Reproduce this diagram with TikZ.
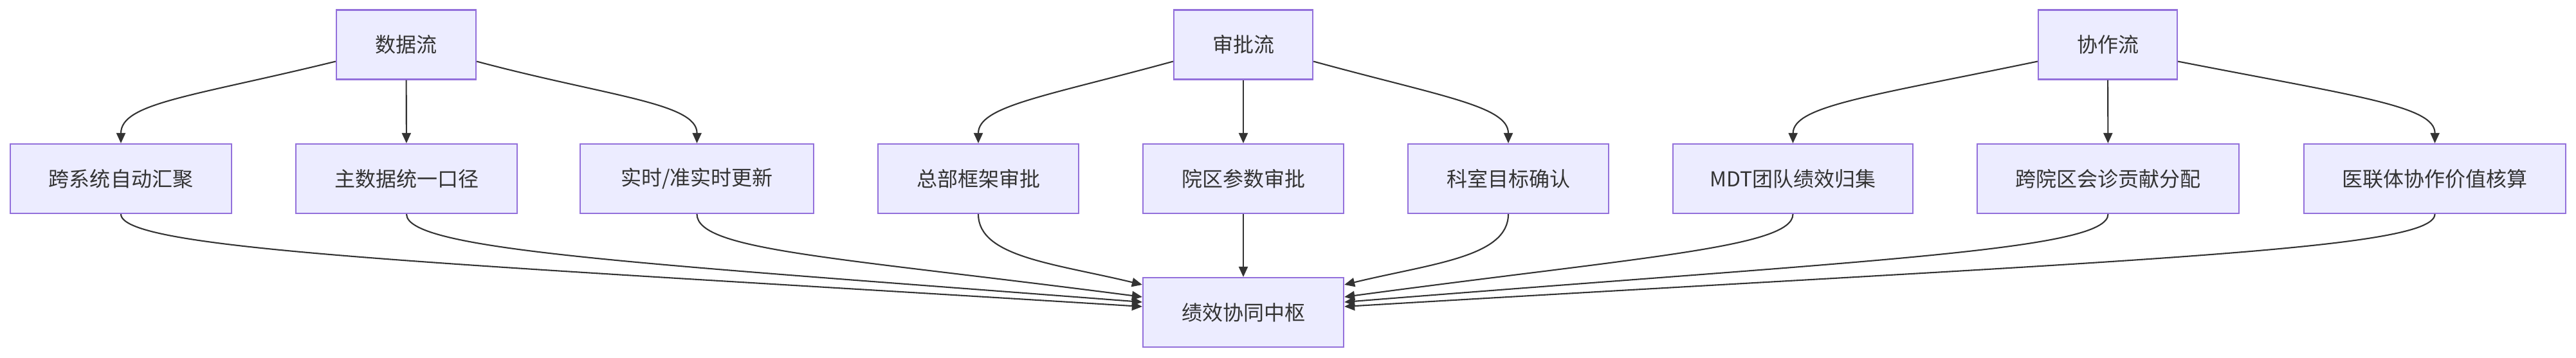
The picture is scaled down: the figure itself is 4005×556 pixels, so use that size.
\documentclass[tikz,border=0pt]{standalone}
\usepackage{fontspec}
\setmainfont{Noto Sans CJK SC}
\usepackage{xcolor}
\usetikzlibrary{arrows.meta}
\definecolor{nodefill}{HTML}{ECECFF}
\definecolor{nodeborder}{HTML}{9370DB}
\definecolor{edgegray}{HTML}{333333}
\definecolor{textgray}{HTML}{333333}

\begin{document}
\begin{tikzpicture}[x=0.01cm,y=-0.01cm]
  \tikzset{
    box/.style={draw=nodeborder,fill=nodefill,line width=0.6pt,minimum height=1.08cm,
      inner sep=0pt,font=\fontsize{9.1}{11}\selectfont,text=textgray},
    flow/.style={draw=edgegray,line width=0.6pt,->,>={Triangle[length=1.6mm,width=1.4mm]}},
  }
  \useasboundingbox (0,0) rectangle (4005,556);

  % Three streams on top, units are pixels of the 4005 x 556 canvas.
  \node[box,minimum width=2.17cm] (df) at (631.5,69.5) {数据流};
  \node[box,minimum width=2.16cm] (af) at (1933,69.5) {审批流};
  \node[box,minimum width=2.16cm] (cf) at (3277,69.5) {协作流};

  % Middle row.
  \node[box,minimum width=3.44cm] (d1) at (188,278) {跨系统自动汇聚};
  \node[box,minimum width=3.44cm] (d2) at (632,278) {主数据统一口径};
  \node[box,minimum width=3.63cm] (d3) at (1083.5,278) {实时/准实时更新};
  \node[box,minimum width=3.12cm] (a1) at (1521,278) {总部框架审批};
  \node[box,minimum width=3.12cm] (a2) at (1933,278) {院区参数审批};
  \node[box,minimum width=3.12cm] (a3) at (2345,278) {科室目标确认};
  \node[box,minimum width=3.73cm] (c1) at (2787.5,278) {MDT团队绩效归集};
  \node[box,minimum width=4.07cm] (c2) at (3277.5,278) {跨院区会诊贡献分配};
  \node[box,minimum width=4.07cm] (c3) at (3785.5,278) {医联体协作价值核算};

  % Hub at the bottom.
  \node[box,minimum width=3.12cm] (hub) at (1933,486) {绩效协同中枢};

  % Streams to middle row.
  \draw[flow] ([yshift=-0.26cm]df.west) .. controls (300,150) and (188,160) .. (d1.north);
  \draw[flow] (df) -- (d2);
  \draw[flow] ([yshift=-0.26cm]df.east) .. controls (945,150) and (1084,160) .. (d3.north);
  \draw[flow] ([yshift=-0.26cm]af.west) .. controls (1625,150) and (1521,165) .. (a1.north);
  \draw[flow] (af) -- (a2);
  \draw[flow] ([yshift=-0.26cm]af.east) .. controls (2241,150) and (2345,165) .. (a3.north);
  \draw[flow] ([yshift=-0.26cm]cf.west) .. controls (2905,150) and (2788,165) .. (c1.north);
  \draw[flow] (cf) -- (c2);
  \draw[flow] ([yshift=-0.26cm]cf.east) .. controls (3665,150) and (3786,165) .. (c3.north);

  % Middle row into the hub.
  \draw[flow] (d1.south) .. controls (188,390) and (700,410) .. ([yshift=0.09cm]hub.west);
  \draw[flow] (d2.south) .. controls (632,390) and (1000,410) .. ([yshift=0.16cm]hub.west);
  \draw[flow] (d3.south) .. controls (1084,390) and (1300,400) .. ([yshift=0.24cm]hub.west);
  \draw[flow] (a1.south) .. controls (1521,400) and (1640,410) .. ([yshift=0.43cm]hub.west);
  \draw[flow] (a2) -- (hub);
  \draw[flow] (a3.south) .. controls (2345,400) and (2226,410) .. ([yshift=0.43cm]hub.east);
  \draw[flow] (c1.south) .. controls (2788,385) and (2550,400) .. ([yshift=0.24cm]hub.east);
  \draw[flow] (c2.south) .. controls (3278,390) and (2900,405) .. ([yshift=0.16cm]hub.east);
  \draw[flow] (c3.south) .. controls (3786,390) and (3300,405) .. ([yshift=0.09cm]hub.east);
\end{tikzpicture}
\end{document}
